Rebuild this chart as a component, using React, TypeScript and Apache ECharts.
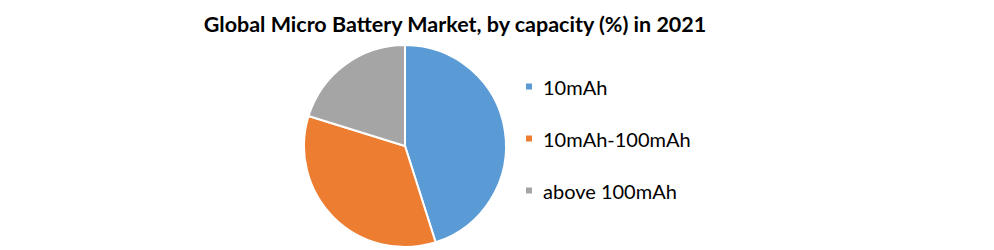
import React, { useEffect, useRef } from "react";
import * as echarts from "echarts";

const titleText = "Global Micro Battery Market, by capacity (%) in 2021";
const categories = ["10mAh", "10mAh-100mAh", "above 100mAh"];
const shares = [45.1, 34.7, 20.2];
const colors = ["#5B9BD5", "#ED7D31", "#A5A5A5"];

export default function App() {
  const ref = useRef<HTMLDivElement>(null);
  useEffect(() => {
    if (!ref.current) return;
    const chart = echarts.init(ref.current, null, { renderer: "svg" });
    chart.setOption({
      animation: false,
      backgroundColor: "#ffffff",
      title: {
        text: titleText,
        left: 450,
        top: 8,
        textAlign: "center",
        textStyle: {
          fontFamily: "Lato",
          fontWeight: "bold",
          fontSize: 21.5,
          color: "#000000",
        },
      },
      legend: {
        orient: "vertical",
        left: 526,
        top: 75,
        padding: 0,
        itemWidth: 6,
        itemHeight: 6,
        itemGap: 29,
        icon: "rect",
        itemStyle: { borderWidth: 0 },
        data: categories,
        textStyle: {
          fontFamily: "Lato",
          fontSize: 20,
          color: "#000000",
          lineHeight: 23,
          padding: [0, 0, 0, 6],
        },
      },
      series: [
        {
          type: "pie",
          center: [405, 146],
          radius: 101,
          startAngle: 90,
          clockwise: true,
          label: { show: false },
          labelLine: { show: false },
          itemStyle: { borderColor: "#ffffff", borderWidth: 2 },
          data: categories.map((name, i) => ({
            name,
            value: shares[i],
            itemStyle: { color: colors[i] },
          })),
        },
      ],
    });
    return () => chart.dispose();
  }, []);
  return (
    <div
      ref={ref}
      style={{ position: "fixed", left: 0, top: 0, width: 994, height: 250 }}
    />
  );
}
